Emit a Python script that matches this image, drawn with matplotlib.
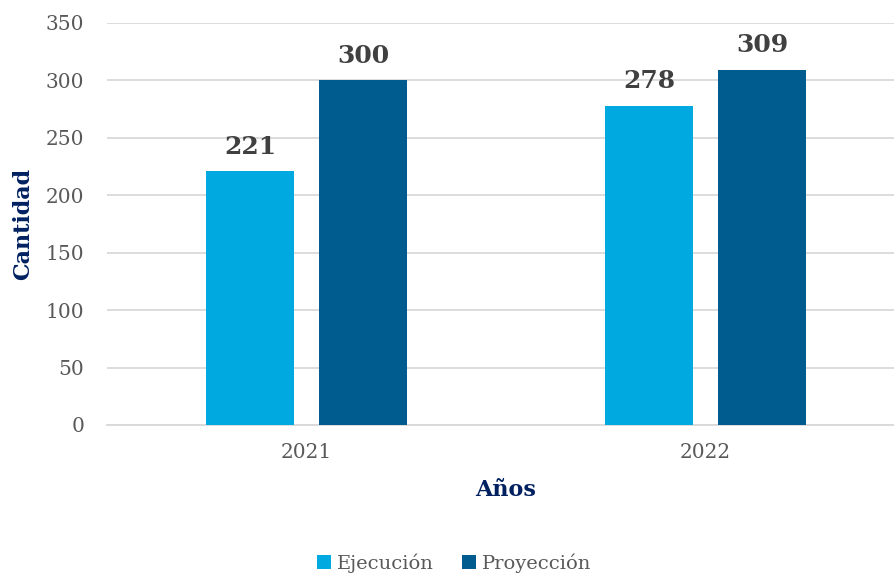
import numpy as np
import matplotlib
matplotlib.use("Agg")
import matplotlib.pyplot as plt

anios = ["2021", "2022"]
ejecucion = [221, 278]
proyeccion = [300, 309]

plt.rcParams['font.family'] = ['DejaVu Serif']

fig = plt.figure(figsize=(8.94, 5.73), dpi=100)
ax = fig.add_axes([107/894, 1 - 425/573, 798/894, 402/573])

x = np.arange(len(anios))
w = 0.223
off = 0.1416
b1 = ax.bar(x - off, ejecucion, w, color='#00A9E0', label='Ejecución', zorder=3)
b2 = ax.bar(x + off, proyeccion, w, color='#005B8F', label='Proyección', zorder=3)

for bars, vals in [(b1, ejecucion), (b2, proyeccion)]:
    for r, v in zip(bars, vals):
        ax.text(r.get_x() + r.get_width()/2, v + 11, str(v), ha='center', va='bottom',
                fontsize=18, fontweight='bold', color='#404040')

ax.set_xlim(-0.5, 1.5)
ax.set_ylim(0, 350)
ax.set_yticks(range(0, 351, 50))
ax.set_xticks(x)
ax.set_xticklabels(anios)
ax.tick_params(length=0, labelsize=14.5, colors='#595959')
ax.tick_params(axis='y', pad=16.5)
ax.tick_params(axis='x', pad=13)
ax.grid(axis='y', color='#d9d9d9', linewidth=1.3, zorder=0)
for s in ['top', 'right', 'left']:
    ax.spines[s].set_visible(False)
ax.spines['bottom'].set_color('#d9d9d9')
ax.spines['bottom'].set_linewidth(1.3)

ax.set_xlabel('Años', fontsize=16, fontweight='bold', color='#002060', labelpad=12)
ax.set_ylabel('Cantidad', fontsize=16, fontweight='bold', color='#002060', labelpad=8)

fig.legend(handles=[b1, b2], loc='center', bbox_to_anchor=(0.508, 1 - 563/573), ncol=2,
           frameon=False, fontsize=14, handlelength=0.7, handleheight=0.7,
           handletextpad=0.3, columnspacing=1.5, labelcolor='#595959')

fig.savefig('out.png', dpi=100)
